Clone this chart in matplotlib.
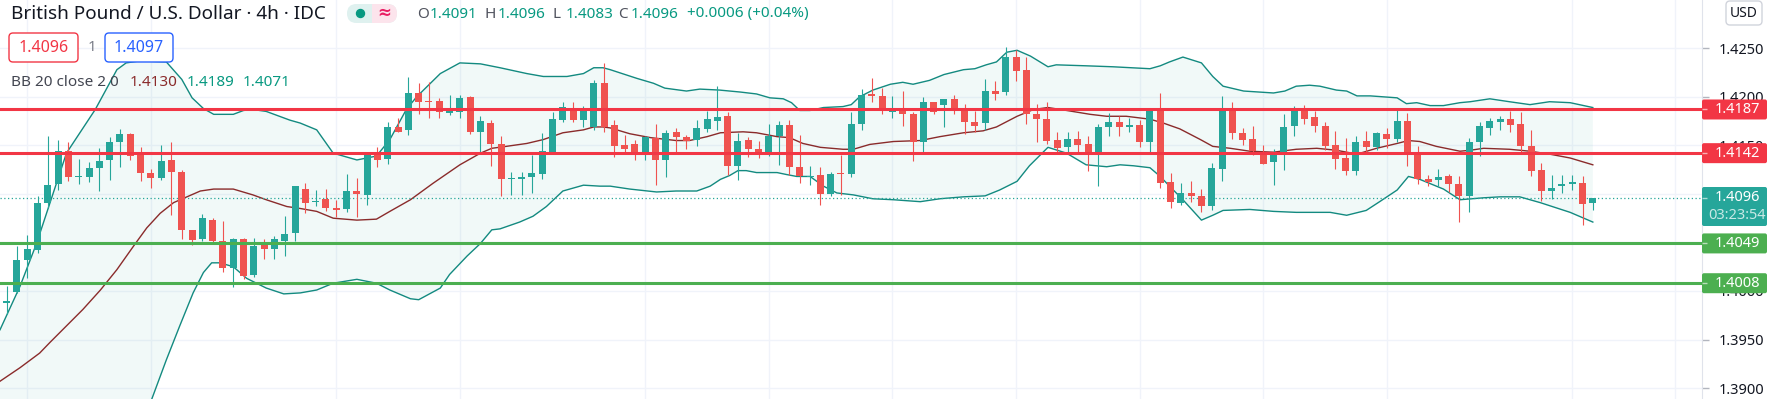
#%%
# GBP/USD 4h candles with Bollinger Bands (20, 2) and support / resistance lines
import numpy as np
import matplotlib.pyplot as plt
from matplotlib.patches import FancyBboxPatch, Rectangle, Circle
from matplotlib.ticker import FormatStrFormatter

plt.rcParams['font.family'] = ['Noto Sans', 'DejaVu Sans']

# %% data (one candle per 4h bar)
opens = [1.3988, 1.39987, 1.40316, 1.40419, 1.40906, 1.41105, 1.41444, 1.41177, 1.41174, 1.41263,
         1.41345, 1.41540, 1.41616, 1.41410, 1.41215, 1.41163, 1.41352, 1.41225, 1.40625, 1.40535,
         1.40734, 1.40518, 1.40237, 1.40539, 1.40168, 1.40484, 1.40436, 1.40518, 1.40597, 1.41053,
         1.40913, 1.40950, 1.40854, 1.40848, 1.41033, 1.40985, 1.41403, 1.41359, 1.41688, 1.41654,
         1.42038, 1.41959, 1.41959, 1.41832, 1.41849, 1.41997, 1.41643, 1.41729, 1.41513, 1.41153,
         1.41153, 1.41173, 1.41208, 1.41437, 1.41763, 1.41883, 1.41763, 1.41688, 1.42147, 1.41712,
         1.41503, 1.41516, 1.41437, 1.41575, 1.41352, 1.41640, 1.41588, 1.41551, 1.41674, 1.41756,
         1.41804, 1.41283, 1.41558, 1.41465, 1.41437, 1.41599, 1.41712, 1.41280, 1.41177, 1.41197,
         1.41002, 1.41215, 1.41204, 1.41719, 1.42031, 1.42010, 1.41849, 1.41856, 1.41825, 1.41540,
         1.41949, 1.41918, 1.41976, 1.41866, 1.41739, 1.41729, 1.42062, 1.42045, 1.42408, 1.42278,
         1.41825, 1.41774, 1.41558, 1.41482, 1.41568, 1.41516, 1.41431, 1.41688, 1.41736, 1.41688,
         1.41712, 1.41530, 1.41866, 1.41122, 1.40906, 1.41009, 1.40981, 1.40872, 1.41256, 1.41866,
         1.41626, 1.41568, 1.41437, 1.41324, 1.41437, 1.41695, 1.41859, 1.41791, 1.41702, 1.41503,
         1.41369, 1.41232, 1.41547, 1.41482, 1.41616, 1.41564, 1.41753, 1.41420, 1.41156, 1.41139,
         1.41187, 1.41105, 1.40974, 1.41530, 1.41684, 1.41746, 1.41774, 1.41722, 1.41496, 1.41249,
         1.41026, 1.41077, 1.41101, 1.41112, 1.4091]
highs = [1.4005, 1.40460, 1.40580, 1.40974, 1.41599, 1.41558, 1.41540, 1.41362, 1.41324, 1.41472,
         1.41585, 1.41667, 1.41626, 1.41482, 1.41259, 1.41499, 1.41540, 1.41249, 1.40631, 1.40793,
         1.40751, 1.40724, 1.40546, 1.40546, 1.40546, 1.40535, 1.40563, 1.40775, 1.41084, 1.41112,
         1.41043, 1.41053, 1.40940, 1.41208, 1.41163, 1.41437, 1.41479, 1.41739, 1.41780, 1.42209,
         1.42141, 1.42158, 1.41986, 1.42021, 1.42021, 1.42010, 1.41798, 1.41763, 1.41599, 1.41221,
         1.41221, 1.41403, 1.41626, 1.41849, 1.41942, 1.41952, 1.41901, 1.42175, 1.42353, 1.41763,
         1.41609, 1.41558, 1.41592, 1.41722, 1.41654, 1.41678, 1.41609, 1.41763, 1.41859, 1.42113,
         1.41839, 1.41626, 1.41582, 1.41547, 1.41722, 1.41753, 1.41763, 1.41609, 1.41283, 1.41273,
         1.41228, 1.41403, 1.41839, 1.42079, 1.42192, 1.42089, 1.42010, 1.42062, 1.41849, 1.42003,
         1.41952, 1.41976, 1.42021, 1.41925, 1.41856, 1.42182, 1.42165, 1.42518, 1.42484, 1.42408,
         1.41928, 1.41942, 1.41636, 1.41643, 1.41650, 1.41599, 1.41722, 1.41832, 1.41798, 1.41787,
         1.41763, 1.41873, 1.42038, 1.41215, 1.41112, 1.41129, 1.41050, 1.41317, 1.42010, 1.41952,
         1.41678, 1.41702, 1.41499, 1.41465, 1.41825, 1.41907, 1.41914, 1.41859, 1.41739, 1.41650,
         1.41575, 1.41599, 1.41650, 1.41640, 1.41678, 1.41890, 1.41832, 1.41496, 1.41197, 1.41256,
         1.41204, 1.41180, 1.41575, 1.41746, 1.41780, 1.41798, 1.41856, 1.41846, 1.41660, 1.41317,
         1.41197, 1.41197, 1.41197, 1.41180, 1.4096]
lows = [1.3976, 1.39980, 1.40134, 1.40391, 1.40854, 1.41043, 1.41129, 1.41105, 1.41118, 1.41026,
        1.41146, 1.41273, 1.41345, 1.41129, 1.41060, 1.41146, 1.40786, 1.40535, 1.40477, 1.40511,
        1.40501, 1.40192, 1.40041, 1.40127, 1.40144, 1.40333, 1.40333, 1.40364, 1.40511, 1.40803,
        1.40872, 1.40820, 1.40762, 1.40810, 1.40762, 1.40882, 1.41276, 1.41311, 1.41633, 1.41609,
        1.41822, 1.41787, 1.41787, 1.41808, 1.41780, 1.41619, 1.41437, 1.41283, 1.40974, 1.40992,
        1.40992, 1.41009, 1.41153, 1.41420, 1.41746, 1.41736, 1.41688, 1.41654, 1.41633, 1.41379,
        1.41420, 1.41345, 1.41345, 1.41094, 1.41173, 1.41437, 1.41465, 1.41489, 1.41643, 1.41660,
        1.41197, 1.41139, 1.41379, 1.41369, 1.41386, 1.41300, 1.41197, 1.41112, 1.41094, 1.40882,
        1.40974, 1.40992, 1.41173, 1.41654, 1.41942, 1.41822, 1.41787, 1.41702, 1.41335, 1.41437,
        1.41825, 1.41688, 1.41822, 1.41619, 1.41636, 1.41660, 1.41969, 1.42021, 1.42165, 1.41722,
        1.41530, 1.41516, 1.41437, 1.41437, 1.41437, 1.41232, 1.41084, 1.41592, 1.41599, 1.41643,
        1.41482, 1.41431, 1.41060, 1.40854, 1.40882, 1.40916, 1.40810, 1.40831, 1.41129, 1.41568,
        1.41506, 1.41396, 1.41311, 1.41088, 1.41242, 1.41599, 1.41722, 1.41633, 1.41455, 1.41259,
        1.41191, 1.41197, 1.41437, 1.41455, 1.41472, 1.41530, 1.41283, 1.41101, 1.41077, 1.41077,
        1.41016, 1.40707, 1.40813, 1.41386, 1.41609, 1.41654, 1.41643, 1.41437, 1.41187, 1.40923,
        1.40947, 1.41009, 1.41036, 1.40676, 1.4083]
closes = [1.3990, 1.40323, 1.40433, 1.40906, 1.41094, 1.41444, 1.41174, 1.41184, 1.41266, 1.41338,
          1.41534, 1.41616, 1.41386, 1.41215, 1.41163, 1.41341, 1.41225, 1.40625, 1.40529, 1.40751,
          1.40511, 1.40237, 1.40539, 1.40151, 1.40467, 1.40436, 1.40535, 1.40590, 1.41077, 1.40906,
          1.40930, 1.40854, 1.40837, 1.41033, 1.40998, 1.41403, 1.41345, 1.41688, 1.41643, 1.42038,
          1.41952, 1.41942, 1.41849, 1.41856, 1.41986, 1.41643, 1.41753, 1.41513, 1.41153, 1.41160,
          1.41177, 1.41215, 1.41444, 1.41770, 1.41894, 1.41763, 1.41859, 1.42147, 1.41688, 1.41496,
          1.41465, 1.41437, 1.41582, 1.41352, 1.41630, 1.41582, 1.41547, 1.41681, 1.41770, 1.41794,
          1.41283, 1.41547, 1.41462, 1.41431, 1.41599, 1.41712, 1.41273, 1.41180, 1.41184, 1.41002,
          1.41208, 1.41201, 1.41722, 1.42021, 1.42014, 1.41856, 1.41859, 1.41825, 1.41540, 1.41942,
          1.41849, 1.41976, 1.41856, 1.41746, 1.41702, 1.42062, 1.42031, 1.42408, 1.42271, 1.41825,
          1.41774, 1.41547, 1.41468, 1.41568, 1.41506, 1.41427, 1.41688, 1.41746, 1.41688, 1.41708,
          1.41530, 1.41866, 1.41112, 1.40913, 1.41009, 1.40981, 1.40872, 1.41266, 1.41859, 1.41626,
          1.41551, 1.41444, 1.41311, 1.41437, 1.41688, 1.41859, 1.41774, 1.41695, 1.41496, 1.41359,
          1.41232, 1.41534, 1.41482, 1.41626, 1.41564, 1.41753, 1.41431, 1.41153, 1.41118, 1.41173,
          1.41105, 1.40974, 1.41534, 1.41702, 1.41753, 1.41774, 1.41705, 1.41489, 1.41232, 1.41026,
          1.41064, 1.41105, 1.41125, 1.40900, 1.4096]

# Bollinger bands, sampled along the curve (x = bar index)
bb_up_x = [-0.65, 1.3, 2.9, 5.8, 8.6, 10.7, 11.6, 12.9, 15.5, 17.0, 18.0, 19.1, 20.1, 22.0, 23.0,
           23.9, 25.2, 27.5, 28.5, 30.1, 31.7, 34.0, 35.9, 37.2, 38.8, 39.8, 42.1, 44.0, 46.0, 47.9,
           50.5, 52.1, 54.4, 56.0, 57.0, 57.9, 58.6, 61.2, 62.8, 63.9, 66.0, 67.3, 69.2, 71.2, 72.8,
           74.1, 75.4, 76.2, 77.0, 78.0, 79.3, 81.2, 82.0, 82.8, 84.1, 85.8, 87.0, 88.0, 89.6, 91.0,
           92.9, 94.0, 95.1, 96.1, 97.1, 98.1, 99.4, 101.1, 101.9, 104.8, 107.4, 111.0, 112.0, 112.9,
           114.2, 116.0, 117.1, 118.1, 120.1, 123.0, 124.1, 125.2, 126.5, 127.5, 129.1, 130.1, 131.1,
           132.4, 135.0, 135.9, 136.9, 138.2, 139.5, 141.1, 142.1, 144.0, 145.9, 147.9, 149.8, 151.8,
           154.0]
bb_up = [1.3960, 1.4005, 1.4049, 1.4142, 1.4187, 1.4228, 1.4235, 1.4237, 1.4236, 1.4218, 1.4199,
         1.4188, 1.4182, 1.4182, 1.4186, 1.4187, 1.4185, 1.4176, 1.4173, 1.4166, 1.4142, 1.4135,
         1.4139, 1.4156, 1.4187, 1.4200, 1.4224, 1.4235, 1.4234, 1.4230, 1.4224, 1.4221, 1.4221,
         1.4224, 1.4230, 1.4230, 1.4228, 1.4219, 1.4214, 1.4209, 1.4206, 1.4208, 1.4207, 1.4205,
         1.4203, 1.4199, 1.4198, 1.4194, 1.4186, 1.4186, 1.4189, 1.4190, 1.4192, 1.4200, 1.4207,
         1.4213, 1.4215, 1.4213, 1.4217, 1.4223, 1.4228, 1.4229, 1.4233, 1.4236, 1.4246, 1.4248,
         1.4242, 1.4231, 1.4233, 1.4232, 1.4231, 1.4229, 1.4232, 1.4236, 1.4241, 1.4235, 1.4221,
         1.4211, 1.4206, 1.4204, 1.4206, 1.4211, 1.4212, 1.4211, 1.4207, 1.4206, 1.4201, 1.4201,
         1.4199, 1.4193, 1.4194, 1.4191, 1.4191, 1.4194, 1.4195, 1.4198, 1.4195, 1.4192, 1.4195,
         1.4194, 1.4189]

bb_mid_x = [-0.65, 1.3, 3.2, 4.2, 5.8, 7.4, 9.1, 10.7, 12.3, 13.6, 14.9, 16.2, 17.5, 18.8, 20.1,
            22.0, 23.9, 25.2, 27.2, 28.5, 30.1, 31.7, 34.0, 35.9, 37.2, 39.2, 41.4, 44.0, 46.0, 47.1,
            48.5, 50.5, 52.1, 54.0, 56.0, 57.0, 57.9, 58.6, 60.5, 62.5, 65.0, 66.3, 68.0, 69.3, 71.5,
            72.8, 74.8, 76.0, 77.3, 79.0, 81.2, 82.2, 83.8, 86.1, 88.7, 90.6, 92.9, 94.8, 96.1, 98.1,
            99.7, 101.1, 102.9, 105.2, 106.8, 108.7, 111.0, 112.3, 113.9, 115.9, 117.1, 118.8, 120.7,
            123.0, 125.2, 127.2, 129.1, 131.1, 133.0, 135.0, 136.1, 137.2, 138.8, 141.1, 142.1, 143.4,
            145.9, 147.9, 149.8, 151.8, 154.0]
bb_mid = [1.3907, 1.3921, 1.3936, 1.3947, 1.3964, 1.3981, 1.4001, 1.4022, 1.4046, 1.4065, 1.4080,
          1.4091, 1.4097, 1.4103, 1.4105, 1.4105, 1.4099, 1.4094, 1.4087, 1.4085, 1.4082, 1.4075,
          1.4073, 1.4074, 1.4082, 1.4094, 1.4111, 1.4130, 1.4142, 1.4147, 1.4149, 1.4152, 1.4156,
          1.4163, 1.4166, 1.4169, 1.4169, 1.4168, 1.4162, 1.4158, 1.4155, 1.4155, 1.4159, 1.4163,
          1.4164, 1.4163, 1.4159, 1.4158, 1.4152, 1.4148, 1.4146, 1.4146, 1.4151, 1.4154, 1.4155,
          1.4159, 1.4163, 1.4165, 1.4169, 1.4180, 1.4187, 1.4189, 1.4186, 1.4182, 1.4180, 1.4180,
          1.4177, 1.4173, 1.4167, 1.4156, 1.4149, 1.4147, 1.4144, 1.4143, 1.4146, 1.4147, 1.4145,
          1.4141, 1.4147, 1.4152, 1.4155, 1.4154, 1.4149, 1.4144, 1.4145, 1.4147, 1.4146, 1.4144,
          1.4141, 1.4137, 1.4130]

bb_lo_x = [-0.65, 2.0, 4.2, 7.0, 9.0, 11.0, 12.9, 14.1, 15.5, 16.8, 18.1, 19.1, 19.9, 20.7, 22.0,
           23.3, 25.2, 26.9, 28.5, 30.1, 31.7, 34.0, 35.9, 37.2, 39.2, 40.0, 42.1, 43.0, 44.7, 46.0,
           47.1, 47.9, 49.8, 51.1, 52.4, 54.0, 56.0, 57.6, 58.6, 60.5, 63.1, 65.0, 67.0, 68.3, 69.3,
           70.2, 71.0, 71.8, 72.8, 74.8, 75.7, 76.7, 78.0, 79.3, 80.6, 82.2, 84.1, 86.1, 88.7, 90.6,
           92.9, 95.0, 96.4, 98.1, 99.3, 101.1, 102.9, 104.8, 106.8, 108.1, 109.4, 111.0, 112.0, 112.9,
           114.2, 116.0, 117.1, 118.1, 120.7, 123.0, 125.2, 128.5, 130.1, 132.0, 133.3, 135.0, 136.1,
           137.2, 139.5, 141.1, 143.4, 145.0, 146.9, 148.9, 151.8, 154.0]
bb_lo = [1.3854, 1.3825, 1.3809, 1.3800, 1.3806, 1.3830, 1.3855, 1.3889, 1.3929, 1.3964, 1.3998,
         1.4019, 1.4029, 1.4029, 1.4025, 1.4013, 1.4003, 1.3997, 1.3998, 1.4001, 1.4008, 1.4012,
         1.4008, 1.4001, 1.3992, 1.3991, 1.4003, 1.4017, 1.4036, 1.4049, 1.4063, 1.4064, 1.4071,
         1.4077, 1.4087, 1.4103, 1.4109, 1.4108, 1.4108, 1.4105, 1.4102, 1.4103, 1.4103, 1.4108,
         1.4115, 1.4119, 1.4124, 1.4124, 1.4122, 1.4122, 1.4120, 1.4118, 1.4118, 1.4108, 1.4101,
         1.4099, 1.4095, 1.4094, 1.4092, 1.4095, 1.4097, 1.4098, 1.4104, 1.4113, 1.4129, 1.4148,
         1.4142, 1.4130, 1.4128, 1.4130, 1.4129, 1.4127, 1.4118, 1.4108, 1.4094, 1.4073, 1.4078,
         1.4083, 1.4084, 1.4082, 1.4081, 1.4081, 1.4078, 1.4083, 1.4092, 1.4104, 1.4118, 1.4115,
         1.4105, 1.4094, 1.4096, 1.4097, 1.4097, 1.4091, 1.4081, 1.4071]

red_levels = [1.4187, 1.4142]
green_levels = [1.4049, 1.4008]
price_ticks = [1.3900, 1.3950, 1.4000, 1.4050, 1.4100, 1.4150, 1.4200, 1.4250]
grid_bars = [2, 14, 32, 44, 62, 74, 86, 98, 110, 122, 134, 152, 162]
countdown = '03:23:54'
bid, ask = 1.4096, 1.4097

# %% colours
UP = '#26a69a'
DN = '#ef5350'
BAND = '#138a80'
BASIS = '#8a2b2b'
RED_LVL = '#f23645'
GRN_LVL = '#4caf50'
GRID = '#f0f3fa'
TXT = '#131722'

W, H = 1785, 399
fig = plt.figure(figsize=(W / 100, H / 100), dpi=100)
ax = fig.add_axes([0, 0, 1702 / W, 1])
ax.set_xlim(-0.65, 164.6)
ax.set_ylim(1.38887, 1.42998)

# %% bands
ax.fill(np.r_[bb_up_x, bb_lo_x[::-1]], np.r_[bb_up, bb_lo[::-1]],
        color='#089981', alpha=0.055, lw=0, zorder=1)
ax.plot(bb_up_x, bb_up, color=BAND, lw=1.0, zorder=2)
ax.plot(bb_lo_x, bb_lo, color=BAND, lw=1.0, zorder=2)
ax.plot(bb_mid_x, bb_mid, color=BASIS, lw=1.0, zorder=2)

# %% candles
o = np.array(opens)
c = np.array(closes)
xs = np.arange(len(o))
cols = np.where(c >= o, UP, DN)
ax.vlines(xs, lows, highs, colors=cols, lw=0.8, zorder=3)
ax.bar(xs, np.maximum(np.abs(c - o), 0.00006), bottom=np.minimum(o, c),
       width=0.68, color=cols, lw=0, zorder=4)

# %% horizontal levels and last price line
for v in red_levels:
    ax.axhline(v, color=RED_LVL, lw=2.2, zorder=5)
for v in green_levels:
    ax.axhline(v, color=GRN_LVL, lw=2.2, zorder=5)
ax.axhline(closes[-1], color=UP, lw=0.9, ls=(0, (1, 2)), zorder=2)

# grid + price scale
ax.set_yticks(price_ticks)
ax.set_xticks(grid_bars)
ax.grid(True, color=GRID, lw=1, zorder=0)
ax.set_axisbelow(True)
ax.yaxis.tick_right()
ax.yaxis.set_major_formatter(FormatStrFormatter('%.4f'))
ax.tick_params(axis='y', length=5, width=1, color='#b2b5be', labelsize=10.5,
               labelcolor=TXT, pad=7)
ax.tick_params(axis='x', length=0, labelbottom=False)
for s in ['top', 'left', 'bottom']:
    ax.spines[s].set_visible(False)
ax.spines['right'].set_color('#e0e3eb')

# %% price tags on the right scale (x in pixels from the scale edge)
ax2 = fig.add_axes([1702 / W, 0, 83 / W, 1])
ax2.set_xlim(0, 83)
ax2.set_ylim(ax.get_ylim())
ax2.axis('off')
px = (1.42998 - 1.38887) / H  # price per pixel


def tag(y, text, fc, h=20, sub=None):
    y0 = y - h * px / 2 if sub is None else y - 28.2 * px
    ax2.add_patch(FancyBboxPatch((0, y0), 65, h * px, boxstyle='round,pad=0,rounding_size=2',
                                 mutation_aspect=px, fc=fc, ec='none', zorder=5))
    ax2.hlines(y, 0, 5, color='white', lw=1, alpha=0.6, zorder=6)
    ax2.text(35, y, text, ha='center', va='center', color='white',
             fontsize=10.5, fontweight='bold', zorder=7)
    if sub:
        ax2.text(35, y - 18 * px, sub, ha='center', va='center', color='white',
                 alpha=0.75, fontsize=10.5, zorder=7)


for v in red_levels:
    tag(v, f'{v:.4f}', RED_LVL)
for v in green_levels:
    tag(v, f'{v:.4f}', GRN_LVL)
tag(closes[-1], f'{closes[-1]:.4f}', UP, h=39, sub=countdown)

# %% header (pixel coordinates)
top = fig.add_axes([0, 0, 1, 1])
top.set_xlim(0, W)
top.set_ylim(H, 0)
top.axis('off')

top.text(11, 14, 'British Pound / U.S. Dollar · 4h · IDC', fontsize=13.6, color=TXT, va='center')

# market status pill
top.add_patch(FancyBboxPatch((347, 4), 50, 19, boxstyle='round,pad=0,rounding_size=9.5',
                             fc='#dff1ef', ec='none'))
top.add_patch(FancyBboxPatch((364, 4), 33, 19, boxstyle='round,pad=0,rounding_size=9.5',
                             fc='#fce4ec', ec='none'))
top.add_patch(Rectangle((362, 4), 10, 19, fc='#dff1ef', ec='none'))
top.add_patch(Circle((360.5, 13.5), 4, color='#089981'))
top.text(384, 13.5, '≈', fontsize=12, fontweight='bold', color='#e91e63', ha='center', va='center')

# OHLC values of the last bar, change vs previous close
chg = round(closes[-1] - closes[-2], 4)
ohlc = [('O', opens[-1], 417), ('H', highs[-1], 485), ('L', lows[-1], 553), ('C', closes[-1], 618)]
for k, v, xx in ohlc:
    top.text(xx, 14, k, fontsize=11, color='#50535e', va='center')
    top.text(xx + 12.5, 14, f'{v:.4f}', fontsize=11, color='#089981', va='center')
top.text(687, 14, f'+{chg:.4f} (+{chg / closes[-2] * 100:.2f}%)', fontsize=11,
         color='#089981', va='center')

# bid / ask boxes
top.add_patch(FancyBboxPatch((9, 33), 69, 29, boxstyle='round,pad=0,rounding_size=4',
                             fc='white', ec=RED_LVL, lw=1))
top.text(43.5, 47.5, f'{bid:.4f}', fontsize=11.5, color=RED_LVL, ha='center', va='center')
top.text(92, 47.5, '1', fontsize=11, color='#787b86', ha='center', va='center')
top.add_patch(FancyBboxPatch((105, 33), 68, 29, boxstyle='round,pad=0,rounding_size=4',
                             fc='white', ec='#2962ff', lw=1))
top.text(139, 47.5, f'{ask:.4f}', fontsize=11.5, color='#2962ff', ha='center', va='center')

# indicator legend
top.text(11, 82, 'BB 20 close 2 0', fontsize=11, color='#434651', va='center')
top.text(130, 82, f'{bb_mid[-1]:.4f}', fontsize=11, color=BASIS, va='center')
top.text(187, 82, f'{bb_up[-1]:.4f}', fontsize=11, color='#089981', va='center')
top.text(243, 82, f'{bb_lo[-1]:.4f}', fontsize=11, color='#089981', va='center')

# currency button
top.add_patch(FancyBboxPatch((1726, 1), 36, 24, boxstyle='round,pad=0,rounding_size=4',
                             fc='white', ec='#d1d4dc', lw=1))
top.text(1744, 13.5, 'USD', fontsize=10, color=TXT, ha='center', va='center')

fig.savefig('out.png', dpi=100)
